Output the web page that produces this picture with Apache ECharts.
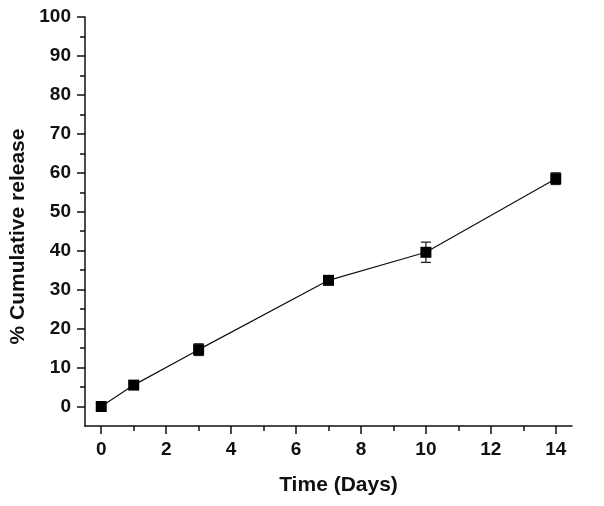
<!DOCTYPE html>
<html>
<head>
<meta charset="utf-8">
<script src="https://cdn.jsdelivr.net/npm/echarts@6/dist/echarts.min.js"></script>
<style>
  html, body { margin: 0; padding: 0; background: #fff; }
  #chart { width: 604px; height: 506px; }
</style>
</head>
<body>
<div id="chart"></div>
<script>
// data
var days = [0, 1, 3, 7, 10, 14];
var release = [0, 5.5, 14.6, 32.4, 39.6, 58.5];
var errSd = [0.4, 0.6, 1.5, 1.1, 2.6, 1.5];

// tick positions
var xMajor = [0, 2, 4, 6, 8, 10, 12, 14];
var xMinor = [1, 3, 5, 7, 9, 11, 13];
var yMajor = [0, 10, 20, 30, 40, 50, 60, 70, 80, 90, 100];
var yMinor = [5, 15, 25, 35, 45, 55, 65, 75, 85, 95];

var font = 'Liberation Sans, Arial, sans-serif';
var chartDom = document.getElementById('chart');
var myChart = echarts.init(chartDom);

var lineData = days.map(function (d, i) { return [d, release[i]]; });
var errData = days.map(function (d, i) { return [d, release[i] - errSd[i], release[i] + errSd[i]]; });

var axisColor = '#111';
var labelStyle = { color: '#111', fontSize: 19, fontWeight: 'bold', fontFamily: font, margin: 14 };

var option = {
  animation: false,
  grid: { left: 85, top: 17, right: 32, bottom: 80, outerBoundsMode: 'none', containLabel: false },
  xAxis: [
    {
      type: 'value',
      min: -0.5,
      max: 14.5,
      position: 'bottom',
      name: 'Time (Days)',
      nameLocation: 'middle',
      nameGap: 49,
      nameTextStyle: { color: '#111', fontSize: 21, fontWeight: 'bold', fontFamily: font, padding: [0, 0, 0, 20] },
      axisLine: { onZero: false, lineStyle: { color: axisColor, width: 1.5 } },
      axisTick: { show: true, inside: false, length: 8, customValues: xMajor, lineStyle: { color: axisColor, width: 1.5 } },
      axisLabel: Object.assign({ customValues: xMajor }, labelStyle),
      splitLine: { show: false }
    },
    {
      // minor ticks
      type: 'value',
      min: -0.5,
      max: 14.5,
      position: 'bottom',
      axisLine: { show: false, onZero: false },
      axisTick: { show: true, inside: false, length: 5, customValues: xMinor, lineStyle: { color: axisColor, width: 1.5 } },
      axisLabel: { show: false },
      splitLine: { show: false }
    }
  ],
  yAxis: [
    {
      type: 'value',
      min: -5,
      max: 100,
      position: 'left',
      name: '% Cumulative release',
      nameLocation: 'middle',
      nameRotate: 90,
      nameGap: 56,
      nameTextStyle: { color: '#111', fontSize: 21, fontWeight: 'bold', fontFamily: font, padding: [0, 30, 0, 0] },
      axisLine: { show: true, onZero: false, lineStyle: { color: axisColor, width: 1.5 } },
      axisTick: { show: true, inside: false, length: 8, customValues: yMajor, lineStyle: { color: axisColor, width: 1.5 } },
      axisLabel: Object.assign({ customValues: yMajor }, labelStyle),
      splitLine: { show: false }
    },
    {
      // minor ticks
      type: 'value',
      min: -5,
      max: 100,
      position: 'left',
      axisLine: { show: false, onZero: false },
      axisTick: { show: true, inside: false, length: 5, customValues: yMinor, lineStyle: { color: axisColor, width: 1.5 } },
      axisLabel: { show: false },
      splitLine: { show: false }
    }
  ],
  series: [
    {
      type: 'line',
      data: lineData,
      symbol: 'rect',
      symbolSize: 11,
      itemStyle: { color: '#000' },
      lineStyle: { color: '#111', width: 1.2 },
      z: 3
    },
    {
      type: 'custom',
      data: errData,
      z: 2,
      renderItem: function (params, api) {
        var x = api.value(0);
        var lo = api.coord([x, api.value(1)]);
        var hi = api.coord([x, api.value(2)]);
        var hw = 5;
        var st = { stroke: '#222', lineWidth: 1.3 };
        return {
          type: 'group',
          children: [
            { type: 'line', shape: { x1: hi[0], y1: hi[1], x2: lo[0], y2: lo[1] }, style: st },
            { type: 'line', shape: { x1: hi[0] - hw, y1: hi[1], x2: hi[0] + hw, y2: hi[1] }, style: st },
            { type: 'line', shape: { x1: lo[0] - hw, y1: lo[1], x2: lo[0] + hw, y2: lo[1] }, style: st }
          ]
        };
      }
    }
  ]
};
option && myChart.setOption(option);
</script>
</body>
</html>
